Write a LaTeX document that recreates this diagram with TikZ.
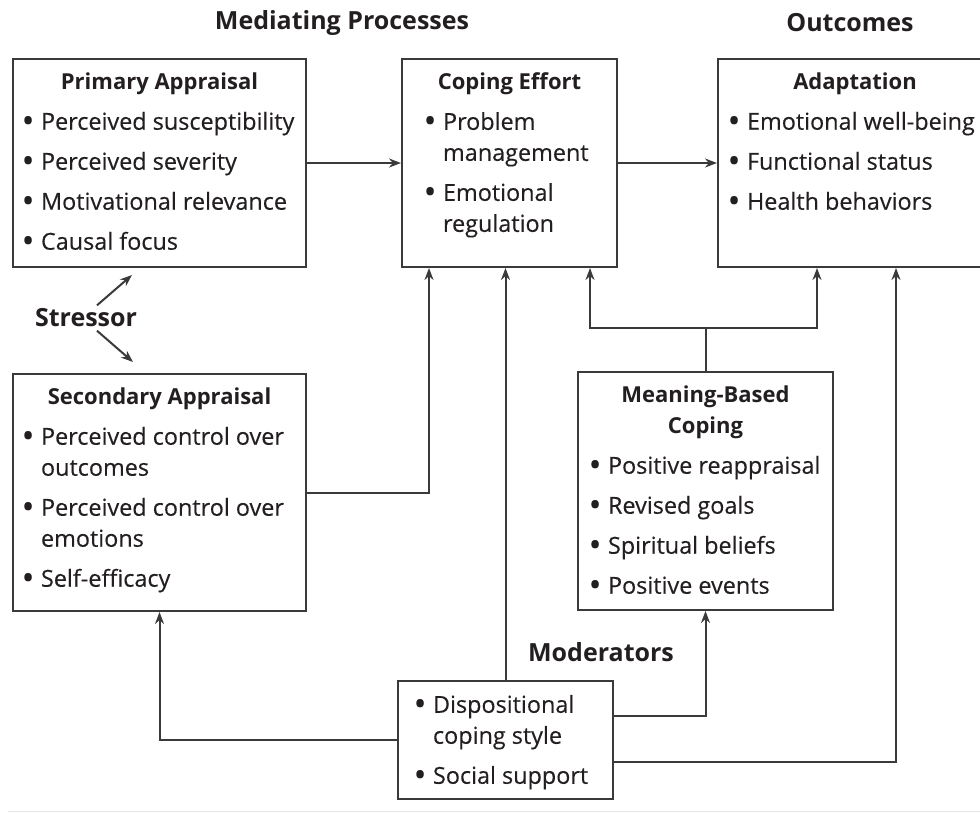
\documentclass[tikz,border=0pt]{standalone}
\usepackage{fontspec}
\setmainfont{Open Sans}[UprightFeatures={FakeBold=0.3}]
\usetikzlibrary{positioning}
\usetikzlibrary{calc}
\usetikzlibrary{arrows.meta}
\definecolor{ink}{HTML}{231F20}
\definecolor{edge}{HTML}{3A3A3A}
\tikzset{%
  arr/.style = {-{Stealth[length=12pt,width=9pt]},line width=2pt,draw=edge},
  panel/.style = {rectangle,draw=edge,line width=2pt,inner xsep=4pt,inner ysep=0pt,
        anchor=north west,text=ink},
  lbl/.style = {font=\fontsize{25}{28}\selectfont\bfseries,text=ink}
}
\newlength{\pmargin}
\newcommand{\boxbody}[4]{\parbox[t][#2][t]{#1}{\fontsize{23.4}{31}\selectfont
  \setlength{\pmargin}{#3}\setlength{\parskip}{9pt}\vspace*{5pt}#4}}
\newcommand{\hd}[1]{{\centering\fontsize{22}{31}\selectfont\bfseries #1\par}}
\newcommand{\bdot}{\raisebox{-0.8pt}{\scalebox{1.15}{\bfseries\textbullet}}}
\newcommand{\bl}[1]{{\rightskip=0pt plus 1fil\hangindent=\dimexpr\pmargin+16pt\relax
  \hangafter=1\noindent\hspace*{\pmargin}\makebox[16pt][l]{\hspace*{-2pt}\bdot}#1\par}}

\begin{document}
\begin{tikzpicture}[x=1pt,y=-1pt]
        \clip (0,0) rectangle (980,812);
        \node[lbl] (mediating) at (342,23) {Mediating Processes};
        \node[lbl] (outcomes) at (850,23) {Outcomes};

        \node[panel] (primary) at (12,58)
          {\boxbody{285pt}{208pt}{8pt}{\hd{Primary Appraisal}
            \bl{Perceived susceptibility}\bl{Perceived severity}
            \bl{Motivational relevance}\bl{Causal focus}}};
        \node[panel] (coping) [right=94pt of primary.north east,anchor=north west]
          {\boxbody{207pt}{208pt}{21pt}{\hd{Coping Effort}
            \bl{Problem\newline management}\bl{Emotional\newline regulation}}};
        \node[panel] (adapt) [right=99pt of coping.north east,anchor=north west]
          {\boxbody{266pt}{208pt}{9pt}{\hd{Adaptation}
            \bl{Emotional well-being}\bl{Functional status}\bl{Health behaviors}}};
        \node[panel] (secondary) [below=105pt of primary.south west,anchor=north west]
          {\boxbody{285pt}{237pt}{8pt}{\hd{Secondary Appraisal}
            \bl{Perceived control over\newline outcomes}\bl{Perceived control over\newline emotions}
            \bl{Self-efficacy}}};
        \node[panel] (meaning) at (577,371)
          {\boxbody{247pt}{238pt}{10pt}{\hd{Meaning-Based\\Coping}
            \bl{Positive reappraisal}\bl{Revised goals}
            \bl{Spiritual beliefs}\bl{Positive events}}};
        \node[panel] (moderators) at (397,680)
          {\boxbody{207pt}{118pt}{15pt}{\bl{Dispositional\newline coping style}\bl{Social support}}};

        \node[lbl] (stressor) at (86,318) {Stressor};
        \node[lbl] (modlabel) at (601,652) {Moderators};
        \coordinate (pa-tip) at (132,275);
        \coordinate (sa-tip) at (133,362);
        \coordinate (mb-split) at ($(meaning.north)+(0,-43)$);

        \draw[arr] (primary.east) -- (coping.west);
        \draw[arr] (coping.east) -- (adapt.west);
        \draw[arr] ([xshift=11pt]stressor.north) -- (pa-tip);
        \draw[arr] ([xshift=11pt]stressor.south) -- (sa-tip);
        \draw[arr] (secondary.east) -| ([xshift=28pt]coping.south west);
        \draw[arr] (moderators.north) -- (moderators.north |- coping.south);
        \draw[edge,line width=2pt] (meaning.north) -- (mb-split);
        \draw[arr] (mb-split) -| ([xshift=-28pt]coping.south east);
        \draw[arr] (mb-split) -| ([xshift=100pt]adapt.south west);
        \draw[arr] (moderators.west) -| (secondary.south);
        \draw[arr] ([yshift=24pt]moderators.east) -| (meaning.south);
        \draw[arr] ([yshift=-22pt]moderators.east) -| ([xshift=179pt]adapt.south west);

        \draw[gray!20,line width=1pt] (8,811) -- (980,811);
    \end{tikzpicture}
\end{document}
